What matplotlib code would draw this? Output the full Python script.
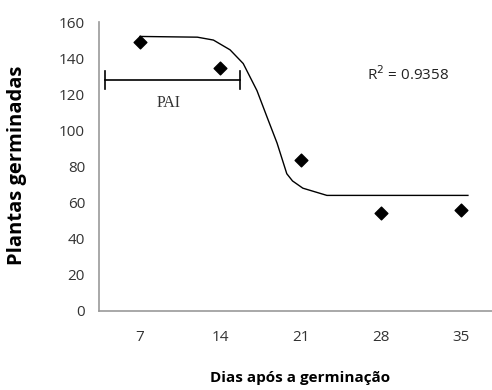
import numpy as np
import matplotlib
matplotlib.use("Agg")
import matplotlib.pyplot as plt

plt.rcParams['font.family'] = ['Open Sans', 'DejaVu Sans']

# observed germinated plants
dias = [7, 14, 21, 28, 35]
plantas = [149, 134.5, 83.5, 54, 56]

# fitted trend curve
curva_x = [7, 12.0, 13.4, 14.85, 16.0, 17.2, 18.1, 18.95, 19.8, 20.3, 21.2, 23.3, 35.6]
curva_y = [152, 151.6, 150, 144.6, 137, 122, 107, 93, 76, 72, 68, 64, 64]

# PAI interval bar
pai_x = [3.95, 15.75]
pai_y = 128

fig = plt.figure(figsize=(4.92, 3.90), dpi=100)
ax = fig.add_axes([99 / 492, 1 - 311 / 390, 1 - 99 / 492, (311 - 22) / 390])

ax.plot(curva_x, curva_y, color='black', lw=1.0, clip_on=False)
ax.scatter(dias, plantas, marker='D', s=42, color='black', zorder=3, clip_on=False)

ax.plot(pai_x, [pai_y, pai_y], color='black', lw=1.2)
for xx in pai_x:
    ax.plot([xx, xx], [pai_y - 5, pai_y + 5], color='black', lw=1.2)
ax.text(9.5, 115, 'PAI', family='Liberation Serif', fontsize=11.5,
        color='#333333', ha='center', va='center')

ax.text(26.8, 131, 'R$^2$ = 0.9358', fontsize=11, color='#222222', va='center')

ax.set_xlim(3.42, 37.7)
ax.set_ylim(0, 160)
ax.set_xticks(dias)
ax.set_yticks(range(0, 161, 20))
ax.tick_params(length=0, labelsize=11, colors='#333333', pad=10)
ax.tick_params(axis='x', pad=14)

for s in ['top', 'right']:
    ax.spines[s].set_visible(False)
for s in ['left', 'bottom']:
    ax.spines[s].set_color('#999999')
    ax.spines[s].set_linewidth(1.2)

ax.set_ylabel('Plantas germinadas', fontsize=14.5, fontweight='bold', va='center')
ax.yaxis.set_label_coords(-(99 - 17) / 393, (311 - 165) / 289)
ax.set_xlabel('Dias após a germinação', fontsize=11, fontweight='bold', va='center')
ax.xaxis.set_label_coords((300 - 99) / 393, -(378 - 311) / 289)

fig.savefig('out.png', dpi=100)
